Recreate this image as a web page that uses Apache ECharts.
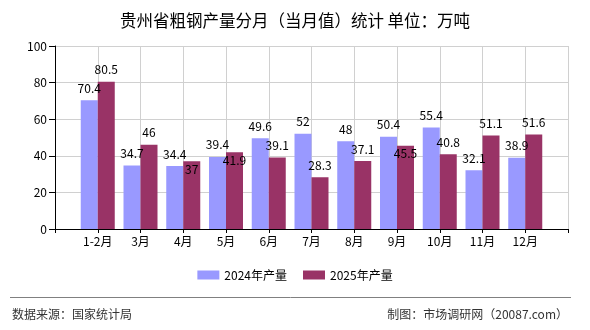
<!DOCTYPE html>
<html>
<head>
<meta charset="utf-8">
<script src="https://cdn.jsdelivr.net/npm/echarts@6/dist/echarts.min.js"></script>
<style>
  html, body { margin: 0; padding: 0; background: #fff; }
  #chart { width: 590px; height: 330px; }
</style>
</head>
<body>
<div id="chart"></div>
<script>
// categorias y valores (万吨)
const months = ['1-2月', '3月', '4月', '5月', '6月', '7月', '8月', '9月', '10月', '11月', '12月'];
const prod2024 = [70.4, 34.7, 34.4, 39.4, 49.6, 52, 48, 50.4, 55.4, 32.1, 38.9];
const prod2025 = [80.5, 46, 37, 41.9, 39.1, 28.3, 37.1, 45.5, 40.8, 51.1, 51.6];
const yTicks = [0, 20, 40, 60, 80, 100];

const FONT = '"Noto Sans CJK SC", "DejaVu Sans", sans-serif';

// eje con un hueco al inicio y al final
const categories = [''].concat(months, ['']);

// etiquetas de 2025 que van dentro de la barra
const insideLabels = [2, 3, 7];

const data2024 = ['-'].concat(prod2024, ['-']);
const data2025 = ['-'].concat(prod2025.map((v, i) => {
  if (insideLabels.includes(i)) {
    return { value: v, label: { position: 'insideTop', distance: 2 } };
  }
  return v;
}), ['-']);

const chart = echarts.init(document.getElementById('chart'));

const option = {
  animation: false,
  backgroundColor: '#fff',
  textStyle: { fontFamily: FONT },
  title: {
    text: '贵州省粗钢产量分月（当月值）统计 单位：万吨',
    left: 'center',
    top: 7,
    textStyle: { fontSize: 16.5, fontWeight: 'normal', color: '#000', fontFamily: FONT }
  },
  legend: {
    bottom: 44,
    left: 'center',
    itemWidth: 22,
    itemHeight: 9,
    itemGap: 16,
    icon: 'rect',
    textStyle: { fontSize: 12, color: '#000', padding: [0, 0, 0, 0] },
    data: ['2024年产量', '2025年产量']
  },
  grid: { left: 55, right: 22, top: 46, bottom: 101 },
  xAxis: {
    type: 'category',
    data: categories,
    boundaryGap: false,
    axisLine: { lineStyle: { color: '#000', width: 1 } },
    axisTick: { show: true, length: 4, lineStyle: { color: '#000' }, interval: 0 },
    axisLabel: { interval: 0, color: '#000', fontSize: 12, margin: 6 },
    splitLine: { show: true, interval: 0, lineStyle: { color: '#d0d0d0', width: 1 } }
  },
  yAxis: {
    type: 'value',
    min: yTicks[0],
    max: yTicks[yTicks.length - 1],
    interval: 20,
    axisLine: { show: true, lineStyle: { color: '#000', width: 1 } },
    axisTick: { show: true, length: 6, lineStyle: { color: '#000' } },
    axisLabel: { color: '#000', fontSize: 12, margin: 8 },
    splitLine: { show: true, lineStyle: { color: '#d0d0d0', width: 1 } }
  },
  series: [
    {
      name: '2024年产量',
      type: 'bar',
      data: data2024,
      barWidth: 17,
      barGap: '0%',
      itemStyle: { color: '#9999ff' },
      label: { show: true, position: 'top', distance: 6, color: '#000', fontSize: 12 }
    },
    {
      name: '2025年产量',
      type: 'bar',
      data: data2025,
      barWidth: 17,
      barGap: '0%',
      itemStyle: { color: '#993366' },
      label: { show: true, position: 'top', distance: 6, color: '#000', fontSize: 12 }
    }
  ],
  graphic: [
    {
      type: 'line',
      shape: { x1: 10, y1: 297.5, x2: 571, y2: 297.5 },
      style: { stroke: '#808080', lineWidth: 1 }
    },
    {
      type: 'text',
      left: 12,
      top: 308,
      style: { text: '数据来源：国家统计局', fontSize: 12, fill: '#333', fontFamily: FONT }
    },
    {
      type: 'text',
      right: 22,
      top: 308,
      style: { text: '制图：市场调研网（20087.com）', fontSize: 12, fill: '#333', fontFamily: FONT }
    }
  ]
};

chart.setOption(option);
</script>
</body>
</html>
